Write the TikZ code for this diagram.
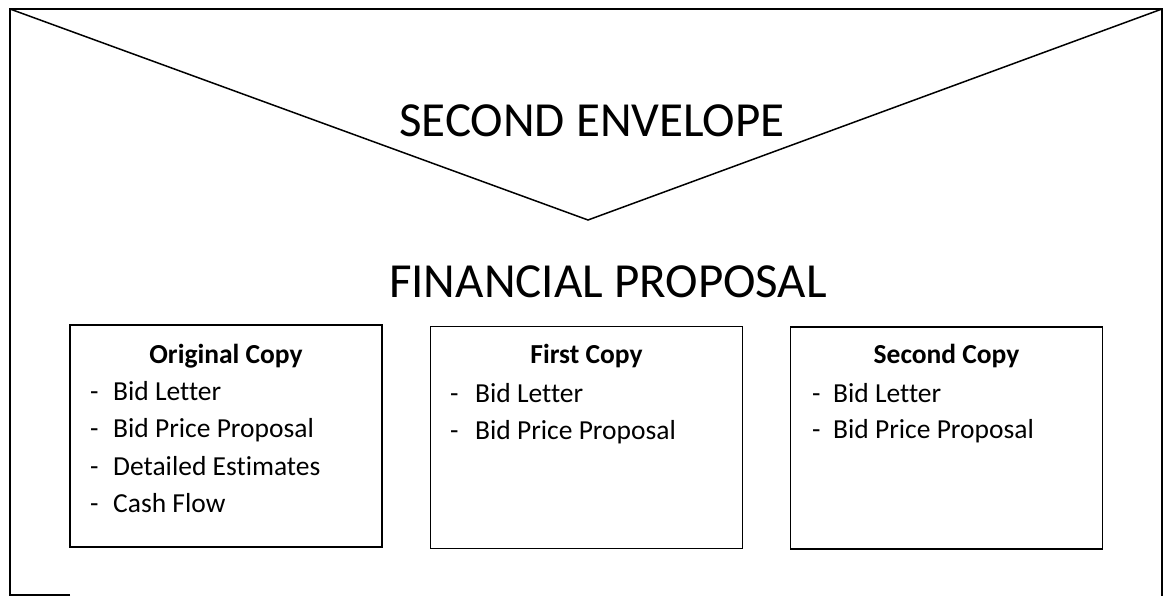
\documentclass[tikz,border=0pt]{standalone}
\usepackage{fontspec}
\setmainfont{Carlito}[Ligatures=NoCommon]
\begin{document}
\begin{tikzpicture}[x=1pt,y=-1pt]
\tikzset{
  frame/.style={line width=2pt},
  flap/.style={line width=1.5pt},
  copybox/.style={draw, line width=1.8pt, minimum width=312pt, minimum height=222pt, inner sep=0pt},
  title/.style={font=\fontsize{49}{58}\selectfont, anchor=base, inner sep=0pt},
  head/.style={font=\bfseries\fontsize{27.5}{33}\selectfont, anchor=base, inner sep=0pt},
  item/.style={font=\fontsize{27.5}{33}\selectfont, anchor=base west, inner sep=0pt}
}
\useasboundingbox (0,0) rectangle (1164,596);
% outer envelope frame
\coordinate (bl) at (70,595);
\coordinate (blc) at (10,595);
\coordinate (tl) at (10,9);
\coordinate (tr) at (1162,9);
\coordinate (br) at (1162,597);
\coordinate (apex) at (588,220);
\draw[frame] (bl) -- (blc) -- (tl) -- (tr) -- (br);
\draw[flap] (tl) -- (apex) -- (tr);
% titles
\node[title] (env) at (592,137) {SECOND ENVELOPE};
\node[title] (fin) at (608,297) {FINANCIAL PROPOSAL};
% boxes
\node[copybox] (b1) at (226,436) {};
\node[copybox] (b2) at (586.5,437.5) {};
\node[copybox] (b3) at (946.5,438) {};
% box 1
\node[head] (h1) at (226,363) {Original Copy};
\node[item] (d11) at (90,400) {-};
\node[item] (t11) at (113,400) {Bid Letter};
\node[item] (d12) at (90,437.5) {-};
\node[item] (t12) at (113,437.5) {Bid Price Proposal};
\node[item] (d13) at (90,475) {-};
\node[item] (t13) at (113,475) {Detailed Estimates};
\node[item] (d14) at (90,512.5) {-};
\node[item] (t14) at (113,512.5) {Cash Flow};
% box 2
\node[head] (h2) at (586.5,363) {First Copy};
\node[item] (d21) at (450,402) {-};
\node[item] (t21) at (475,402) {Bid Letter};
\node[item] (d22) at (450,439) {-};
\node[item] (t22) at (475,439) {Bid Price Proposal};
% box 3
\node[head] (h3) at (946.5,363) {Second Copy};
\node[item] (d31) at (812,402) {-};
\node[item] (t31) at (833,402) {Bid Letter};
\node[item] (d32) at (812,438.5) {-};
\node[item] (t32) at (833,438.5) {Bid Price Proposal};
\end{tikzpicture}
\end{document}
